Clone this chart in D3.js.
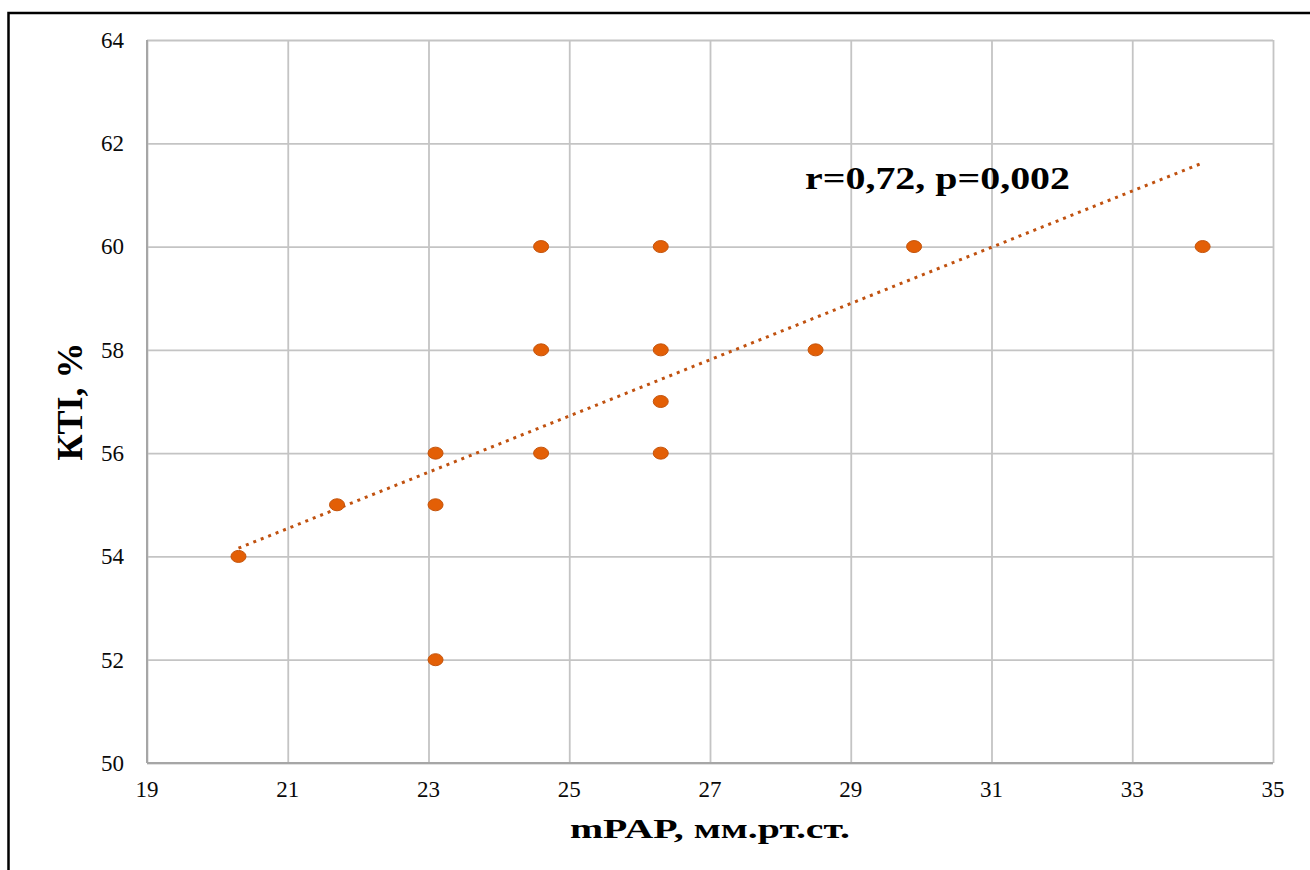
<!DOCTYPE html>
<html>
<head>
<meta charset="utf-8">
<script src="https://cdn.jsdelivr.net/npm/d3@7"></script>
<style>
    body { margin: 0; background: #fff; }
    svg { display: block; font-family: "Liberation Serif", "Times New Roman", serif; }
</style>
</head>
<body>
<div id="chart"></div>
<script>
// values
const mpap = [20.3, 21.7, 23.1, 23.1, 23.1, 24.6, 24.6, 24.6, 26.3, 26.3, 26.3, 26.3, 28.5, 29.9, 34.0];
const kti = [54, 55, 56, 55, 52, 60, 58, 56, 60, 58, 57, 56, 58, 60, 60];
const trendX = [20.3, 34.0];
const trendY = [54.16, 61.62];
const xTicks = [19, 21, 23, 25, 27, 29, 31, 33, 35];
const yTicks = [50, 52, 54, 56, 58, 60, 62, 64];
const annotation = "r=0,72, p=0,002";
const xTitle = "mPAP, мм.рт.ст.";
const yTitle = "КТI, %";

const W = 1310, H = 870;
const margin = {top: 40, right: 37, bottom: 107, left: 147},
    width = W - margin.left - margin.right,
    height = H - margin.top - margin.bottom;

const root = d3.select("#chart")
    .append("svg")
    .attr("width", W)
    .attr("height", H);

// outer frame (only top and left edges show in the picture)
root.append("rect")
    .attr("x", 8.5).attr("y", 13)
    .attr("width", W + 20).attr("height", H + 20)
    .attr("fill", "none")
    .attr("stroke", "#000")
    .attr("stroke-width", 2.5);

const svg = root.append("g")
    .attr("transform", `translate(${margin.left}, ${margin.top})`);

const x = d3.scaleLinear().domain([19, 35]).range([0, width]);
const y = d3.scaleLinear().domain([50, 64]).range([height, 0]);

// grid
svg.append("g")
    .attr("class", "grid-x")
    .call(d3.axisBottom(x).tickValues(xTicks).tickSize(-height).tickFormat(""))
    .attr("transform", `translate(0, ${height})`)
    .call(g => g.select(".domain").remove())
    .call(g => g.selectAll("line").attr("stroke", "#c4c4c4").attr("stroke-width", 1.8));

svg.append("g")
    .attr("class", "grid-y")
    .call(d3.axisLeft(y).tickValues(yTicks).tickSize(-width).tickFormat(""))
    .call(g => g.select(".domain").remove())
    .call(g => g.selectAll("line").attr("stroke", "#c4c4c4").attr("stroke-width", 1.8));

// axis lines
svg.append("line")
    .attr("x1", 0).attr("x2", width)
    .attr("y1", height).attr("y2", height)
    .attr("stroke", "#a6a6a6").attr("stroke-width", 2);
svg.append("line")
    .attr("x1", 0).attr("x2", 0)
    .attr("y1", 0).attr("y2", height)
    .attr("stroke", "#a6a6a6").attr("stroke-width", 2);

// tick labels
svg.append("g")
    .selectAll("text")
    .data(yTicks)
    .join("text")
    .attr("x", -23)
    .attr("y", d => y(d))
    .attr("dy", "0.34em")
    .attr("text-anchor", "end")
    .attr("font-size", 23)
    .attr("fill", "#0a0a0a")
    .text(d => d);

svg.append("g")
    .selectAll("text")
    .data(xTicks)
    .join("text")
    .attr("x", d => x(d))
    .attr("y", height + 34)
    .attr("text-anchor", "middle")
    .attr("font-size", 23)
    .attr("fill", "#0a0a0a")
    .text(d => d);

// trend line
const trend = trendX.map((v, i) => ({x: v, y: trendY[i]}));
svg.append("path")
    .datum(trend)
    .attr("d", d3.line().x(d => x(d.x)).y(d => y(d.y)))
    .attr("fill", "none")
    .attr("stroke", "#c0510f")
    .attr("stroke-width", 3)
    .attr("stroke-dasharray", "3,5");

// points
const points = mpap.map((v, i) => ({x: v, y: kti[i]}));
svg.selectAll(".dot")
    .data(points)
    .join("ellipse")
    .attr("class", "dot")
    .attr("cx", d => x(d.x))
    .attr("cy", d => y(d.y))
    .attr("rx", 7.5)
    .attr("ry", 6)
    .attr("fill", "#e35f06")
    .attr("stroke", "#c4540c")
    .attr("stroke-width", 1);

// annotation
svg.append("text")
    .attr("x", 805 - margin.left)
    .attr("y", 189 - margin.top)
    .attr("font-size", 32)
    .attr("font-weight", "bold")
    .attr("textLength", 265)
    .attr("lengthAdjust", "spacingAndGlyphs")
    .attr("fill", "#000")
    .text(annotation);

// axis titles
svg.append("text")
    .attr("x", width / 2)
    .attr("y", height + 75)
    .attr("text-anchor", "middle")
    .attr("font-size", 28)
    .attr("font-weight", "bold")
    .attr("textLength", 280)
    .attr("lengthAdjust", "spacingAndGlyphs")
    .attr("fill", "#000")
    .text(xTitle);

svg.append("text")
    .attr("transform", `translate(${82 - margin.left}, ${height / 2}) rotate(-90)`)
    .attr("text-anchor", "middle")
    .attr("font-size", 36)
    .attr("font-weight", "bold")
    .attr("fill", "#000")
    .text(yTitle);
</script>
</body>
</html>
